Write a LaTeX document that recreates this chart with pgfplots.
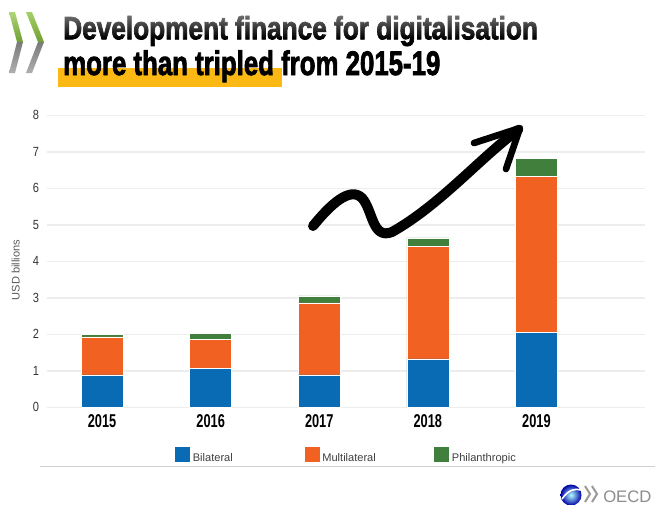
\documentclass[border=0pt]{standalone}
\usepackage{fontspec}
\setmainfont{Liberation Sans}
\newfontfamily\titlefont{Liberation Sans}[BoldFeatures={FakeBold=2.5}]
\usepackage{pgfplots}
\pgfplotsset{compat=1.18}
\usetikzlibrary{fadings}
\tikzfading[name=titlefade, top color=transparent!50, bottom color=transparent!100]
\definecolor{cblue}{HTML}{0A6BB5}
\definecolor{corange}{HTML}{F16222}
\definecolor{cgreen}{HTML}{41803C}
\definecolor{gridc}{HTML}{EDEDED}
\definecolor{hl}{HTML}{FCB813}
\definecolor{txtgray}{HTML}{404040}
\definecolor{chevgreen}{HTML}{8DC63F}
\definecolor{chevgray}{HTML}{7A7A7A}
\newcommand\xl[1]{\scalebox{1}[1.45]{\bfseries #1}}
\newcommand\yl[1]{\scalebox{1}[1.2]{#1}}
\begin{document}
\begin{tikzpicture}[x=0.75pt,y=-0.75pt]
\path[use as bounding box, fill=white] (0,0) rectangle (655,504);
% OECD chevrons top-left
\shade[top color=chevgreen!70!white, bottom color=chevgreen!80!black] (9,12) -- (15,12) -- (23,42) -- (17,42) -- cycle;
\shade[top color=chevgray, bottom color=chevgray!60!white] (17,42) -- (23,42) -- (15,73) -- (9,73) -- cycle;
\shade[top color=chevgreen!80!white, bottom color=chevgreen!80!black] (26,12) -- (32,12) -- (44,42) -- (38,42) -- cycle;
\shade[top color=chevgray, bottom color=chevgray!60!white] (38,42) -- (44,42) -- (32,73) -- (26,73) -- cycle;
% title
\fill[hl] (58,68) rectangle (282,87);
\node[anchor=base west, inner sep=0pt] at (63,39.3) {\resizebox{356pt}{17.5pt}{\titlefont\bfseries Development finance for digitalisation}};
\fill[white, path fading=titlefade] (58,12) rectangle (545,38);
\node[anchor=base west, inner sep=0pt] at (63,75) {\resizebox{282.75pt}{18.5pt}{\titlefont\bfseries more than tripled from 2015-19}};
% y label
\node[rotate=90, text=black!65, font=\fontsize{8.3}{10}\selectfont] at (15.7,270) {USD billions};
\coordinate (axorig) at (47,407.3);
\begin{axis}[
  at={(axorig)}, anchor=south west,
  scale only axis, width=448.5pt, height=219pt,
  ymin=0, ymax=8, xmin=-0.507, xmax=5.0,
  ybar stacked, bar width=31.5pt,
  ytick={0,...,8}, yticklabels={\yl{0},\yl{1},\yl{2},\yl{3},\yl{4},\yl{5},\yl{6},\yl{7},\yl{8}},
  xtick={0,...,4}, xticklabels={\xl{2015},\xl{2016},\xl{2017},\xl{2018},\xl{2019}},
  ymajorgrids, grid style={gridc, line width=1.2pt},
  axis line style={draw=none}, major tick length=0pt,
  yticklabel style={font=\fontsize{8.3}{9}\selectfont, text=black!80, xshift=-2.5pt},
  xticklabel style={font=\fontsize{9.6}{11}\selectfont, text=black, yshift=-2pt},
  legend style={at={(0.2124,-0.1623)}, anchor=west, draw=none, fill=none, inner sep=0pt,
    legend columns=3, font=\fontsize{8.3}{10}\selectfont, text=txtgray,
    nodes={inner sep=0pt}, column sep=0pt},
  legend image code/.code={\fill[#1] (0pt,-3pt) rectangle (12pt,9pt);},
  every axis plot/.append style={draw=white, line width=0.4pt},
]
\addplot[fill=cblue] coordinates {(0,0.89) (1,1.07) (2,0.89) (3,1.33) (4,2.06)};
\addplot[fill=corange] coordinates {(0,1.04) (1,0.79) (2,1.97) (3,3.08) (4,4.27)};
\addplot[fill=cgreen] coordinates {(0,0.07) (1,0.16) (2,0.19) (3,0.23) (4,0.49)};
\legend{\hspace{1.5pt}\makebox[83.25pt][l]{Bilateral},\hspace{1.5pt}\makebox[83.25pt][l]{Multilateral},\hspace{1.5pt}\makebox[83.25pt][l]{Philanthropic}}
\end{axis}
% arrow annotation
\draw[black, line width=7.5pt, line cap=round, line join=round]
  (313,226) .. controls (330,205) and (350,186) .. (362,198)
  .. controls (373,210) and (372,240) .. (392,232)
  .. controls (440,205) and (480,158) .. (518,130);
\draw[black, line width=5pt, line cap=round, line join=round]
  (474,143) -- (520,128) -- (506,169);
% bottom line
\draw[black!18, line width=1.2pt] (40,466.5) -- (655,466.5);
% OECD logo bottom-right
\shade[inner color=cyan!30!white, outer color=blue!65!black] (571,495) circle (10.5);
\draw[white, line width=1.2pt] (562,499) .. controls (568,490) and (575,488) .. (581,490);
\draw[black!40, line width=1.5pt] (585,486) -- (590,494) -- (585,502);
\draw[black!40, line width=1.5pt] (592,486) -- (597,494) -- (592,502);
\node[anchor=base west, inner sep=0pt, text=black!45, font=\fontsize{12.5}{14}\selectfont] at (603,502) {OECD};
\end{tikzpicture}
\end{document}
